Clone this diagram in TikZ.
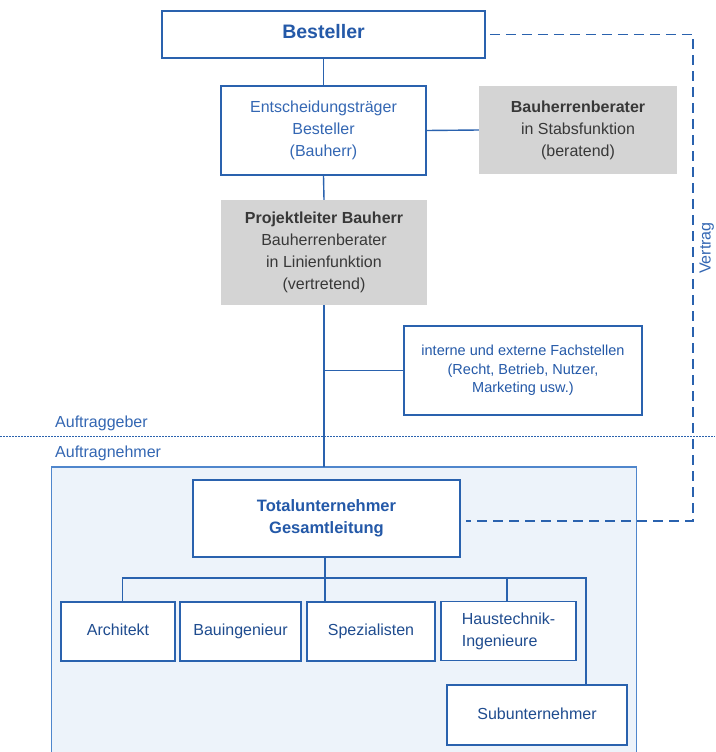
\documentclass[tikz,border=0pt]{standalone}
\usepackage{fontspec}
\setmainfont{Liberation Sans}
\begin{document}
\definecolor{lineblue}{HTML}{2A62AE}
\definecolor{textblue}{HTML}{2459A8}
\definecolor{softblue}{HTML}{3467B3}
\definecolor{grayfill}{HTML}{D4D4D4}
\definecolor{graytext}{HTML}{383838}
\definecolor{panelfill}{HTML}{EDF3FA}
\definecolor{panelline}{HTML}{4F86CC}
\begin{tikzpicture}[x=1pt,y=-1pt,
  box/.style={draw=lineblue,line width=1.8pt,fill=white,inner sep=0pt,align=center,
    text=softblue,font=\fontsize{16}{22}\selectfont},
  graybox/.style={fill=grayfill,inner sep=0pt,align=center,text=graytext,
    font=\fontsize{16}{22}\selectfont},
  subbox/.style={box,text=textblue!85!black,minimum height=59pt},
  oneline/.style={text height=11.5pt,text depth=3.4pt},
  link/.style={draw=lineblue,line width=1.4pt},
  contract/.style={draw=lineblue,line width=1.4pt,dash pattern=on 10pt off 6pt},
  sidelabel/.style={inner sep=0pt,text=softblue,font=\fontsize{16}{20}\selectfont}]
\useasboundingbox (0,0) rectangle (715,752);
\fill[white] (0,0) rectangle (715,752);

% contractor panel
\draw[fill=panelfill,draw=panelline,line width=1.3pt] (51.5,467) rectangle (636.5,770);
\coordinate (paneltop) at (324,467);

% client side
\node[box,oneline,minimum width=323pt,minimum height=47pt,text=textblue,
      font=\fontsize{19.5}{22}\selectfont\bfseries] (best) at (323.5,34.5) {Besteller};
\node[box,minimum width=205pt,minimum height=89pt] (ent) at (323.5,130.5)
  {Entscheidungsträger\\Besteller\\(Bauherr)};
\node[graybox,minimum width=198pt,minimum height=88pt] (stab) at (578,130)
  {\textbf{Bauherrenberater}\\in Stabsfunktion\\(beratend)};
\node[graybox,minimum width=206pt,minimum height=105pt] (proj) at (324,252.5)
  {\textbf{Projektleiter Bauherr}\\Bauherrenberater\\in Linienfunktion\\(vertretend)};
\node[box,minimum width=238pt,minimum height=89pt,text=textblue,
      font=\fontsize{14.5}{18.5}\selectfont] (fach) at (523,370.5)
  {interne und externe Fachstellen\\(Recht, Betrieb, Nutzer,\\Marketing usw.)};

\draw[link] (best.south) -- (ent.north);
\draw[link] (ent.east) -- (stab.west);
\draw[link] (ent.south) -- (proj.north);
\draw[link] (proj.south) -- (paneltop);
\coordinate (fachjoint) at (324,370.5);
\draw[link] (fachjoint) -- (fach.west);

% boundary between client and contractor
\draw[lineblue,line width=1pt,dash pattern=on 1.6pt off 1.4pt] (0,436) -- (715,436);
\node[sidelabel,anchor=base west] (ag) at (55,427) {Auftraggeber};
\node[sidelabel,anchor=base west] (an) at (55,457) {Auftragnehmer};

% contractor side
\node[box,minimum width=267pt,minimum height=77pt,text=textblue,
      font=\fontsize{16.5}{22}\selectfont\bfseries] (total) at (326.5,518.5)
  {Totalunternehmer\\Gesamtleitung};
\node[subbox,oneline,minimum width=114pt] (arch) at (118,631.5) {Architekt};
\node[subbox,oneline,minimum width=121pt] (baui) at (240.5,631.5) {Bauingenieur};
\node[subbox,oneline,minimum width=128pt] (spez) at (371,631.5) {Spezialisten};
\node[subbox,minimum width=135pt,align=left] (haus) at (508.5,631) {Haustechnik-\\Ingenieure};
\node[subbox,oneline,minimum width=180pt,minimum height=60pt] (sub) at (537,715) {Subunternehmer};

\coordinate (busL) at (122.5,578);
\coordinate (busR) at (586,578);
\draw[link] (total.south -| 325,0) -- (spez.north -| 325,0);
\draw[link] (arch.north -| busL) -- (busL) -- (busR) -- (sub.north -| busR);
\draw[link] (haus.north -| 507,0) -- (507,578);

% contract relation
\coordinate (c1) at (693,34.5);
\coordinate (c2) at (693,521);
\draw[contract] ([xshift=4pt]best.east) -- (c1) -- (c2) -- ([xshift=5pt]total.east |- c2);
\node[sidelabel,rotate=90,anchor=base] (vertrag) at (710.5,248) {Vertrag};
\end{tikzpicture}
\end{document}
